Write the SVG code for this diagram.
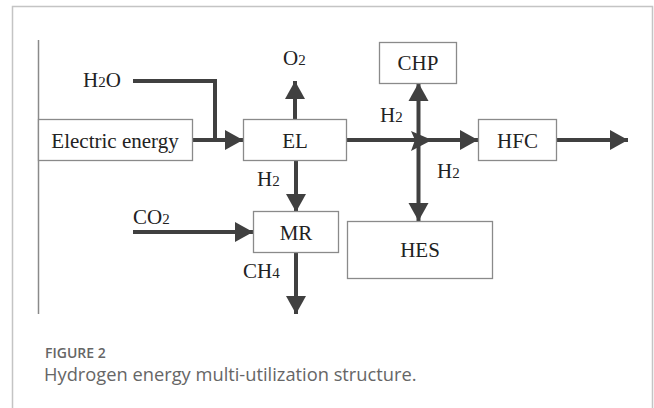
<svg xmlns="http://www.w3.org/2000/svg" width="654" height="408" viewBox="0 0 654 408">
<style>
.box{fill:#fff;stroke:#8a8a8a;stroke-width:1.3}
.t{font-family:"Liberation Serif","Times New Roman",serif;font-size:21px;fill:#222}
.s{font-size:15px}
.c{stroke:#404040;stroke-width:4;fill:none}
.cap1{font-family:"Open Sans","Noto Sans",sans-serif;font-size:14px;font-weight:600;fill:#666}
.cap2{font-family:"Open Sans","Noto Sans",sans-serif;font-size:18.3px;font-weight:400;fill:#666}
</style>
<defs>
<marker id="ah" markerUnits="userSpaceOnUse" markerWidth="20" markerHeight="22" refX="18" refY="10" orient="auto" viewBox="0 0 20 20">
<path d="M0,0 L18,10 L0,20 z" fill="#404040"/>
</marker>
</defs>
<rect x="0" y="0" width="654" height="408" fill="#fff"/>
<path d="M12.5,410 V6.5 H652.5 V410" fill="none" stroke="#c4c4c4" stroke-width="1.5"/>
<line x1="38.5" y1="40" x2="38.5" y2="314" stroke="#8a8a8a" stroke-width="1.5"/>

<g id="connectors">
<line class="c" x1="192" y1="140" x2="243" y2="140" marker-end="url(#ah)"/>
<polyline class="c" points="133,81 215,81 215,140"/>
<line class="c" x1="295" y1="119" x2="295" y2="81" marker-end="url(#ah)"/>
<line class="c" x1="347" y1="140" x2="478" y2="140" marker-end="url(#ah)"/>
<line class="c" x1="418.5" y1="140" x2="418.5" y2="83" marker-end="url(#ah)"/>
<line class="c" x1="418.5" y1="140" x2="418.5" y2="221" marker-end="url(#ah)"/>
<polygon points="411,131 432,140 411,151 415,140" fill="#404040"/>
<line class="c" x1="557" y1="140" x2="628" y2="140" marker-end="url(#ah)"/>
<line class="c" x1="296" y1="161" x2="296" y2="212" marker-end="url(#ah)"/>
<line class="c" x1="133" y1="232" x2="253" y2="232" marker-end="url(#ah)"/>
<line class="c" x1="296" y1="252" x2="296" y2="314" marker-end="url(#ah)"/>
</g>

<g id="electric">
<rect class="box" x="38.5" y="119.5" width="154" height="41"/>
<text class="t" x="115" y="148" text-anchor="middle">Electric energy</text>
</g>
<g id="el">
<rect class="box" x="243.5" y="119.5" width="103" height="41"/>
<text class="t" x="295" y="148" text-anchor="middle">EL</text>
</g>
<g id="chp">
<rect class="box" x="379.5" y="42.5" width="77" height="41"/>
<text class="t" x="418" y="70" text-anchor="middle">CHP</text>
</g>
<g id="hfc">
<rect class="box" x="478.5" y="119.5" width="78" height="41"/>
<text class="t" x="517.5" y="148" text-anchor="middle">HFC</text>
</g>
<g id="mr">
<rect class="box" x="253.5" y="211.5" width="85" height="41"/>
<text class="t" x="296" y="240" text-anchor="middle">MR</text>
</g>
<g id="hes">
<rect class="box" x="347.5" y="221.5" width="145" height="57"/>
<text class="t" x="420" y="257" text-anchor="middle">HES</text>
</g>

<g id="labels">
<text class="t" x="83" y="87">H<tspan class="s">2</tspan>O</text>
<text class="t" x="283" y="65">O<tspan class="s">2</tspan></text>
<text class="t" x="380" y="122">H<tspan class="s">2</tspan></text>
<text class="t" x="437" y="178">H<tspan class="s">2</tspan></text>
<text class="t" x="257" y="186">H<tspan class="s">2</tspan></text>
<text class="t" x="133" y="224">CO<tspan class="s">2</tspan></text>
<text class="t" x="243" y="278">CH<tspan class="s">4</tspan></text>
</g>

<g id="caption">
<text class="cap1" x="45" y="358">FIGURE 2</text>
<text class="cap2" x="44" y="381">Hydrogen energy multi-utilization structure.</text>
</g>
</svg>
